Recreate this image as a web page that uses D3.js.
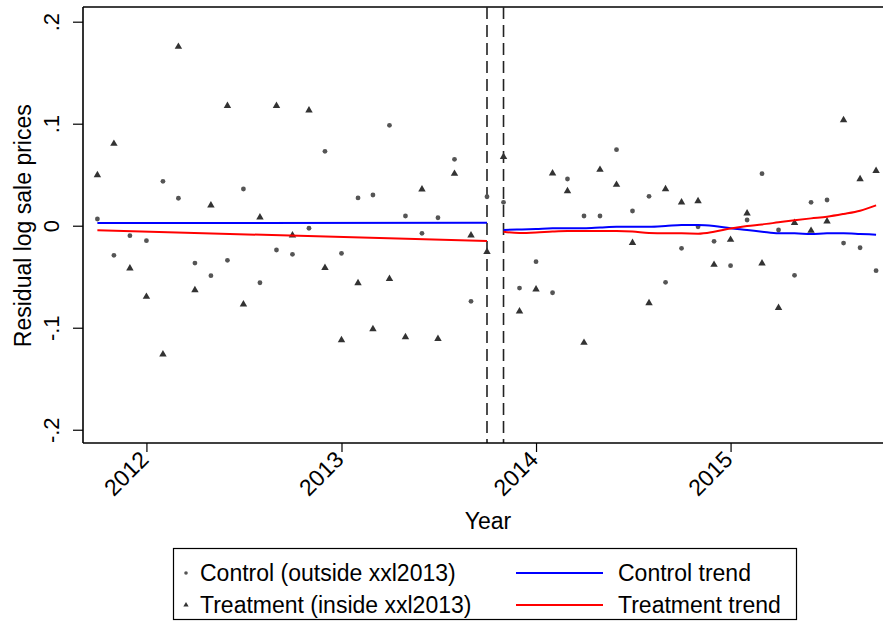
<!DOCTYPE html>
<html>
<head>
<meta charset="utf-8">
<script src="https://cdn.jsdelivr.net/npm/d3@7"></script>
<style>
  html, body { margin: 0; padding: 0; background: #fff; }
  svg { display: block; font-family: "Liberation Sans", Arial, sans-serif; }
</style>
</head>
<body>
<svg id="chart" width="883" height="627"></svg>
<script>
// Monthly observations, Oct 2011 – Oct 2015
const months = [
  "2011-10","2011-11","2011-12",
  "2012-01","2012-02","2012-03","2012-04","2012-05","2012-06","2012-07","2012-08","2012-09","2012-10","2012-11","2012-12",
  "2013-01","2013-02","2013-03","2013-04","2013-05","2013-06","2013-07","2013-08","2013-09","2013-10","2013-11","2013-12",
  "2014-01","2014-02","2014-03","2014-04","2014-05","2014-06","2014-07","2014-08","2014-09","2014-10","2014-11","2014-12",
  "2015-01","2015-02","2015-03","2015-04","2015-05","2015-06","2015-07","2015-08","2015-09","2015-10"
];

// Residual log sale prices, control group (outside xxl2013)
const controlValues = [
  0.0066, -0.0290, -0.0098,
  -0.0147, 0.0435, 0.0269, -0.0366, -0.0490, -0.0339, 0.0360, -0.0559, -0.0238, -0.0280, -0.0025, 0.0729,
  -0.0271, 0.0272, 0.0301, 0.0984, 0.0095, -0.0075, 0.0078, 0.0651, -0.0741, 0.0284, 0.0229, -0.0611,
  -0.0353, -0.0657, 0.0458, 0.0095, 0.0095, 0.0745, 0.0144, 0.0288, -0.0555, -0.0222, -0.0010, -0.0153,
  -0.0392, 0.0056, 0.0510, -0.0042, -0.0486, 0.0229, 0.0252, -0.0170, -0.0216, -0.0441
];

// Residual log sale prices, treatment group (inside xxl2013)
const treatmentValues = [
  0.0497, 0.0804, -0.0418,
  -0.0696, -0.1261, 0.1755, -0.0630, 0.0200, 0.1176, -0.0771, 0.0082, 0.1176, -0.0094, 0.1131, -0.0412,
  -0.1121, -0.0562, -0.1013, -0.0520, -0.1091, 0.0357, -0.1108, 0.0510, -0.0094, -0.0255, 0.0676, -0.0839,
  -0.0624, 0.0514, 0.0340, -0.1147, 0.0549, 0.0402, -0.0167, -0.0758, 0.0360, 0.0229, 0.0242, -0.0382,
  -0.0137, 0.0122, -0.0369, -0.0804, 0.0029, -0.0049, 0.0043, 0.1036, 0.0458, 0.0539
];

// Pre-period linear trends (first and last month of the pre window)
const preTrendMonths = ["2011-10", "2013-10"];
const controlPreTrend = [0.0027, 0.0029];
const treatmentPreTrend = [-0.0045, -0.0150];

// Post-period smoothed trends, Nov 2013 – Oct 2015
const postTrendMonths = [
  "2013-11","2013-12","2014-01","2014-02","2014-03","2014-04","2014-05","2014-06","2014-07","2014-08","2014-09","2014-10",
  "2014-11","2014-12","2015-01","2015-02","2015-03","2015-04","2015-05","2015-06","2015-07","2015-08","2015-09","2015-10"
];
const controlPostTrend = [
  -0.0042, -0.0037, -0.0032, -0.0025, -0.0025, -0.0025, -0.0018, -0.0010, -0.0010, -0.0010, -0.0003, 0.0007,
  0.0007, -0.0003, -0.0025, -0.0042, -0.0059, -0.0075, -0.0075, -0.0081, -0.0075, -0.0075, -0.0081, -0.0088
];
const treatmentPostTrend = [
  -0.0059, -0.0072, -0.0067, -0.0057, -0.0052, -0.0052, -0.0052, -0.0052, -0.0057, -0.0072, -0.0075, -0.0075,
  -0.0078, -0.0059, -0.0027, -0.0003, 0.0012, 0.0033, 0.0053, 0.0072, 0.0088, 0.0115, 0.0147, 0.0200
];

// Event window markers
const eventMonths = ["2013-10", "2013-11"];

// Axis ticks
const yTicks = [-0.2, -0.1, 0, 0.1, 0.2];
const yTickLabels = ["-.2", "-.1", "0", ".1", ".2"];
const xTickYears = ["2012", "2013", "2014", "2015"];

// Legend entries
const legendMarkers = ["Control (outside xxl2013)", "Treatment (inside xxl2013)"];
const legendLines = ["Control trend", "Treatment trend"];

const parseMonth = d3.timeParse("%Y-%m");
const parseYear = d3.timeParse("%Y");

const svg = d3.select("#chart");
const plot = { left: 83, right: 883, top: 7, bottom: 443 };

const x = d3.scaleTime()
  .domain([new Date(2011, 8, 4), new Date(2015, 9, 14)])
  .range([plot.left, plot.right]);

const y = d3.scaleLinear()
  .domain([-0.2130, 0.2144])
  .range([plot.bottom, plot.top]);

const markerColor = "#555555";
const triColor = "#333333";
const fontSize = 23;
const tickFont = 22;

// Plot region frame (top edge and axes)
svg.append("line")
  .attr("x1", plot.left).attr("x2", plot.right + 5)
  .attr("y1", plot.top).attr("y2", plot.top)
  .attr("stroke", "#000").attr("stroke-width", 1.6);

// Event window dashed lines
svg.append("g").selectAll("line")
  .data(eventMonths)
  .join("line")
  .attr("x1", d => x(parseMonth(d))).attr("x2", d => x(parseMonth(d)))
  .attr("y1", plot.top).attr("y2", plot.bottom)
  .attr("stroke", "#222").attr("stroke-width", 1.6)
  .attr("stroke-dasharray", "12,6");

// Y axis
const yAxis = d3.axisLeft(y)
  .tickValues(yTicks)
  .tickFormat((d, i) => yTickLabels[i])
  .tickSize(10)
  .tickPadding(4);
const gy = svg.append("g")
  .attr("transform", `translate(${plot.left},0)`)
  .call(yAxis);
gy.select(".domain").attr("stroke", "#000").attr("stroke-width", 1.6)
  .attr("d", `M0,${plot.top}V${plot.bottom}`);
gy.selectAll(".tick line").attr("stroke", "#000").attr("stroke-width", 1.2);
gy.selectAll(".tick text")
  .attr("font-size", tickFont)
  .attr("fill", "#000")
  .attr("text-anchor", "middle")
  .attr("x", 0).attr("y", 0).attr("dy", 0)
  .attr("transform", "translate(-24,0) rotate(-90)");

// X axis
const xAxis = d3.axisBottom(x)
  .tickValues(xTickYears.map(parseYear))
  .tickFormat(d3.timeFormat("%Y"))
  .tickSize(9)
  .tickPadding(4);
const gx = svg.append("g")
  .attr("transform", `translate(0,${plot.bottom})`)
  .call(xAxis);
gx.select(".domain").attr("stroke", "#000").attr("stroke-width", 1.6)
  .attr("d", `M${plot.left},0H${plot.right + 5}`);
gx.selectAll(".tick line").attr("stroke", "#000").attr("stroke-width", 1.2);
gx.selectAll(".tick text")
  .attr("font-size", fontSize)
  .attr("fill", "#000")
  .attr("text-anchor", "end")
  .attr("x", 0).attr("y", 0).attr("dy", 0)
  .attr("transform", "translate(3,18) rotate(-45)");

// Axis titles
svg.append("text")
  .attr("transform", `translate(31,${y(0)}) rotate(-90)`)
  .attr("text-anchor", "middle")
  .attr("font-size", fontSize)
  .text("Residual log sale prices");

svg.append("text")
  .attr("x", 488).attr("y", 529)
  .attr("text-anchor", "middle")
  .attr("font-size", fontSize)
  .text("Year");

// Scatter: control circles
svg.append("g").selectAll("circle")
  .data(months.map((m, i) => ({ m, v: controlValues[i] })))
  .join("circle")
  .attr("cx", d => x(parseMonth(d.m)))
  .attr("cy", d => y(d.v))
  .attr("r", 2.4)
  .attr("fill", markerColor);

// Scatter: treatment triangles
const tri = d3.symbol().type(d3.symbolTriangle).size(24);
svg.append("g").selectAll("path")
  .data(months.map((m, i) => ({ m, v: treatmentValues[i] })))
  .join("path")
  .attr("d", tri)
  .attr("transform", d => `translate(${x(parseMonth(d.m))},${y(d.v)})`)
  .attr("fill", triColor);

// Trend lines
const line = d3.line()
  .x(d => x(parseMonth(d.m)))
  .y(d => y(d.v))
  .curve(d3.curveMonotoneX);

function drawTrend(ms, vals, color) {
  svg.append("path")
    .datum(ms.map((m, i) => ({ m, v: vals[i] })))
    .attr("d", line)
    .attr("fill", "none")
    .attr("stroke", color)
    .attr("stroke-width", 2);
}
drawTrend(preTrendMonths, controlPreTrend, "#0000ff");
drawTrend(preTrendMonths, treatmentPreTrend, "#ff0000");
drawTrend(postTrendMonths, controlPostTrend, "#0000ff");
drawTrend(postTrendMonths, treatmentPostTrend, "#ff0000");

// Legend
const lg = svg.append("g");
lg.append("rect")
  .attr("x", 173.5).attr("y", 548.5)
  .attr("width", 623).attr("height", 71)
  .attr("fill", "#fff").attr("stroke", "#000").attr("stroke-width", 1.2);

const rowY = [573, 605];
lg.append("circle").attr("cx", 186).attr("cy", rowY[0]).attr("r", 1.8).attr("fill", markerColor);
lg.append("path")
  .attr("d", d3.symbol().type(d3.symbolTriangle).size(12))
  .attr("transform", `translate(186,${rowY[1]})`)
  .attr("fill", triColor);

lg.selectAll("text.mk")
  .data(legendMarkers)
  .join("text")
  .attr("class", "mk")
  .attr("x", 200).attr("y", (d, i) => rowY[i])
  .attr("dy", "0.35em")
  .attr("font-size", fontSize)
  .text(d => d);

const lineColors = ["#0000ff", "#ff0000"];
lg.selectAll("line.lk")
  .data(legendLines)
  .join("line")
  .attr("class", "lk")
  .attr("x1", 516).attr("x2", 603)
  .attr("y1", (d, i) => rowY[i]).attr("y2", (d, i) => rowY[i])
  .attr("stroke", (d, i) => lineColors[i]).attr("stroke-width", 2);

lg.selectAll("text.lt")
  .data(legendLines)
  .join("text")
  .attr("class", "lt")
  .attr("x", 618).attr("y", (d, i) => rowY[i])
  .attr("dy", "0.35em")
  .attr("font-size", fontSize)
  .text(d => d);
</script>
</body>
</html>
